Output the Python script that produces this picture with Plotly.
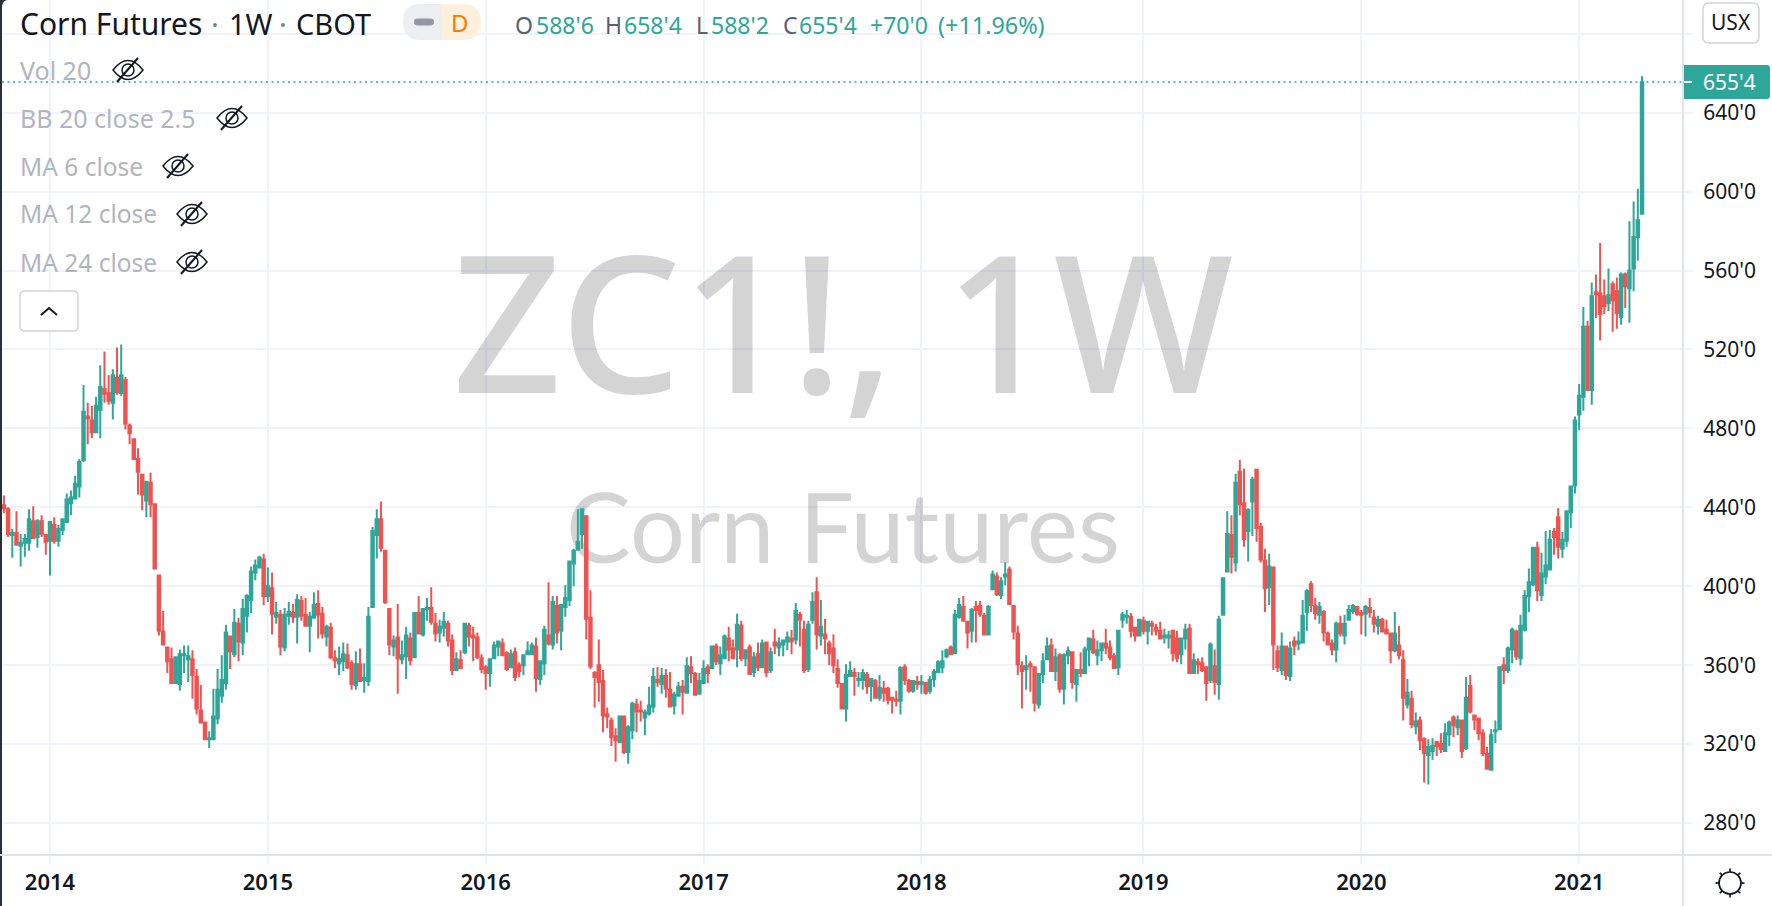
"""Corn Futures weekly candles, TradingView look."""
import math
import pandas as pd
import plotly.graph_objects as go

opens = [
    441, 439, 426, 427, 420.5, 422, 422, 433, 425, 433,
    426, 423, 431, 423, 428.5, 432.5, 442, 444.5, 450.5, 464,
    486, 484, 478, 489.5, 500, 498, 493, 505.5, 498, 504.5,
    481.5, 474.5, 464.5, 456.5, 443.5, 452.5, 441.5, 405.5, 377, 369,
    363, 351, 350.5, 365, 363, 363, 354, 337, 331, 322.5,
    322.5, 333, 344.5, 351, 374.5, 365.5, 381, 371.5, 385, 393,
    407, 409.5, 413.5, 395, 399, 384.5, 385.5, 369, 385, 386.5,
    384.5, 392.5, 385.5, 380, 384, 391, 386, 374.5, 379, 363.5,
    361, 362, 365, 361, 350, 360.5, 352.5, 352, 389.5, 426,
    434, 418, 388.5, 369.5, 374, 363, 364.5, 373.5, 364, 386.5,
    375.5, 388.5, 389, 381, 376.5, 379, 381, 372.5, 357.5, 362.5,
    366.5, 380, 375, 374, 363.5, 359, 356, 363.5, 369.5, 371,
    366, 359, 366.5, 360, 360, 365.5, 365.5, 369.5, 353, 361,
    375, 370.5, 390, 377.5, 389.5, 393, 411.5, 418.5, 426.5, 435.5,
    384, 356, 360, 352, 335, 332, 324, 321, 334, 316,
    327, 340, 337, 333.5, 335.5, 339, 352.5, 350.5, 354.5, 347.5,
    339.5, 344.5, 349, 346, 359, 355.5, 345.5, 351, 359, 358.5,
    369.5, 361, 363.5, 373.5, 368.5, 368, 380, 363.5, 369, 356.5,
    365.5, 359, 371.5, 357.5, 371.5, 369, 370.5, 372, 373.5, 373,
    385.5, 378, 358, 383, 397, 375, 375.5, 371, 368.5, 358,
    350.5, 338, 354.5, 356, 352.5, 352.5, 355, 349.5, 352, 343.5,
    348, 348, 343.5, 342.5, 342, 359, 352, 347, 351.5, 350.5,
    351, 347, 353, 356.5, 359, 364.5, 369, 366, 384.5, 389.5,
    382, 377.5, 389.5, 390, 385, 375.5, 398.5, 405, 395.5, 405,
    408.5, 390, 376, 359.5, 358, 360.5, 359, 340, 355.5, 363,
    370, 357, 365, 348, 365, 366.5, 350.5, 357.5, 356, 368,
    373, 365, 367.5, 371, 369, 364.5, 359, 383, 384.5, 384.5,
    379, 375, 382.5, 377.5, 381, 379, 377.5, 374, 374, 377.5,
    373.5, 365.5, 373.5, 378.5, 356, 361.5, 361, 359, 352.5, 359.5,
    350.5, 385.5, 407.5, 426, 412, 458, 442, 428, 443, 459,
    430, 413, 399.5, 409.5, 367, 357.5, 369.5, 354.5, 372, 371,
    371.5, 387, 401, 390, 385.5, 387, 376, 371, 368, 381,
    375, 383, 387.5, 389.5, 386.5, 386, 389, 384, 380, 383,
    378, 376, 367.5, 370, 362.5, 340, 343, 329, 332, 322.5,
    314.5, 316.5, 321, 320, 316.5, 325, 333.5, 328.5, 332, 318,
    349.5, 334.5, 333, 325.5, 315, 307, 326.5, 327.5, 360, 357.5,
    368, 377, 363.5, 378, 395, 401, 419.5, 395.5, 405, 408.5,
    427.5, 435, 419, 423, 437.5, 451, 487, 496, 531.5, 499.5,
    549, 548.5, 547, 543.5, 553, 549.5, 536.5, 558, 551, 561,
    577, 588.75,
]
closes = [
    439.5, 426.5, 427, 421, 422, 424, 434, 424.5, 433, 426.5,
    422.5, 432.5, 423, 429, 434, 444, 445, 452, 463, 488.5,
    485, 478, 491.5, 501, 497.5, 494, 507, 498.5, 507, 482.5,
    477.5, 464.5, 458, 446.5, 453, 441.5, 409, 377.5, 370.5, 362,
    351, 364, 365.5, 365.5, 364.5, 355, 338, 331, 322.5, 323,
    334, 347.5, 352.5, 376.5, 367, 381.5, 372, 388.5, 395, 407.5,
    410.5, 414.5, 395, 400, 386, 386.5, 369.5, 385.5, 387, 384.5,
    393, 385, 380, 384.5, 390.5, 385.5, 376, 379.5, 364, 362.5,
    363, 365.5, 359, 350.5, 360.5, 352, 353.5, 384.5, 428, 434,
    419.5, 392, 370.5, 372.5, 363.5, 365, 375, 362.5, 386.5, 376,
    388.5, 389, 382, 376, 379.5, 382, 372.5, 357.5, 363, 358.5,
    381, 374.5, 374, 364, 358, 356, 363, 370, 372, 365,
    358, 365.5, 354, 357, 365, 367, 370, 353.5, 362, 378,
    371, 392, 376.5, 390.5, 394, 412.5, 418, 422.5, 439, 383.5,
    359.5, 354, 351.5, 334.5, 334, 323.5, 322, 334, 316, 328.5,
    340.5, 336.5, 336.5, 336, 339.5, 354, 351.5, 354.5, 348, 339,
    345, 349, 346.5, 359.5, 356, 345, 352, 358, 356, 369.5,
    362, 365, 374.5, 368, 363.5, 380.5, 363.5, 367.5, 355.5, 364,
    359, 371, 356.5, 366.5, 370, 371, 372.5, 374, 372, 387.5,
    383, 357.5, 380.5, 392, 375.5, 379.5, 373.5, 366, 360, 351,
    338, 355, 357, 354.5, 353, 356, 349.5, 353, 343.5, 348.5,
    346, 342.5, 342.5, 342, 358.5, 352.5, 347, 352, 350.5, 351.5,
    346, 352.5, 356.5, 361.5, 362, 367.5, 365.5, 385.5, 390.5, 382.5,
    376.5, 388, 388, 386, 375.5, 389.5, 406, 396, 402.5, 406,
    391, 377, 360.5, 357, 359.5, 359.5, 341, 355.5, 362, 369.5,
    357, 364, 348, 365, 367, 351.5, 357.5, 356, 368, 373.5,
    366.5, 367.5, 371, 369, 364, 358.5, 377.5, 385.5, 385, 377.5,
    375, 383, 377.5, 382, 380, 377.5, 373.5, 375, 375, 366,
    363.5, 373.5, 378, 356, 362.5, 360.5, 357.5, 351, 370.5, 351.5,
    383, 404, 426.5, 415, 452.5, 441.5, 424, 438.5, 454, 429.5,
    413.5, 399, 410, 370.5, 359, 369.5, 355, 368.5, 370, 372,
    385, 397.5, 390.5, 386.5, 389.5, 376.5, 370.5, 368, 381, 376,
    381, 388, 390, 386, 385.5, 389.5, 387, 381, 383, 377,
    376, 367.5, 376, 365, 343.5, 346, 330, 331.5, 322, 315.5,
    318.5, 319, 319, 317.5, 325.5, 331, 329.5, 332, 316.5, 343.5,
    336.5, 332.5, 325.5, 315.5, 307.5, 324.5, 327, 359, 357.5, 368.5,
    378, 364.5, 380, 395, 402, 419.5, 398, 406.5, 410.5, 423.5,
    425, 420, 423.5, 438, 450.5, 484, 496.5, 531.5, 499.5, 547,
    548, 538, 542, 547.5, 545, 538.5, 558, 552, 560, 577,
    585.5, 655.5,
]
highs = [
    446, 440, 429, 438, 426.5, 426.5, 439, 440.5, 434, 436,
    426.5, 433, 435, 431, 434, 447, 448.5, 456, 464.5, 502,
    493, 491.5, 496, 512, 519, 507, 510, 521, 522.5, 506,
    482.5, 475, 470, 457, 453.5, 457.5, 441.5, 406, 387.5, 369,
    369, 364, 368, 370, 370, 367.5, 358, 350, 331.5, 326.5,
    348, 358, 365, 380.5, 375, 388.5, 384, 393.5, 396, 410,
    413.5, 415.5, 416.5, 409.5, 407, 392, 388, 389, 392, 391,
    396, 395, 394, 387, 397, 398, 389.5, 380.5, 381.5, 367.5,
    369.5, 371.5, 371, 362.5, 367, 368.5, 361, 389.5, 430, 439,
    443, 418, 389, 375, 391, 372.5, 379.5, 376.5, 387, 395,
    389, 394, 399.5, 386.5, 383, 387, 382.5, 375.5, 366.5, 367.5,
    381.5, 381.5, 379.5, 376.5, 365.5, 360, 363, 372, 372.5, 373.5,
    367, 368, 369, 361.5, 365, 372, 371.5, 374, 362.5, 380,
    402, 395, 395, 391, 400.5, 413, 419, 439, 439, 435.5,
    398, 357, 373, 357.5, 338.5, 333.5, 328, 334.5, 334.5, 329.5,
    341.5, 343, 342, 337.5, 349, 358.5, 359, 358.5, 358, 356.5,
    346.5, 351.5, 352.5, 364, 364.5, 356.5, 356, 362.5, 360.5, 370,
    371, 369.5, 375.5, 379.5, 373, 386, 382.5, 367.5, 370.5, 366.5,
    371.5, 373, 372, 369, 378.5, 374, 372.5, 377, 378, 391.5,
    387, 382.5, 382.5, 397, 404.5, 393, 383.5, 372.5, 375.5, 363,
    350.5, 360.5, 362, 358.5, 356.5, 358, 356.5, 353.5, 353, 355,
    352, 349, 344, 347, 359.5, 360.5, 353, 352.5, 354.5, 355,
    351.5, 354.5, 358, 362.5, 367.5, 368.5, 370, 388, 394, 395,
    382, 389, 392.5, 392.5, 386.5, 390.5, 408, 407, 404.5, 412,
    410, 390, 380, 362, 365, 362, 359, 356, 366, 374,
    373.5, 368.5, 366, 366, 369.5, 366.5, 358, 366.5, 369.5, 374,
    378, 372.5, 371, 378.5, 372.5, 366, 377.5, 387, 388, 386.5,
    379, 383.5, 384.5, 382.5, 382.5, 381, 382, 378.5, 377.5, 378,
    377.5, 373.5, 381, 381, 366, 363.5, 364, 359, 371.5, 368,
    385, 404.5, 438, 436, 457, 464, 459.5, 439.5, 455.5, 459.5,
    432, 419, 416.5, 410, 370, 376.5, 370, 372, 374.5, 377,
    393, 398.5, 402.5, 394, 392, 388, 377, 373, 382, 385,
    385.5, 390.5, 391, 389.5, 388, 390.5, 394, 388, 385, 384,
    383, 376, 387, 380, 367.5, 353, 347, 336, 334, 323.5,
    322.5, 323, 321, 325.5, 330.5, 332, 334.5, 334.5, 332, 354,
    355, 334.5, 333.5, 327.5, 318.5, 327.5, 332, 359.5, 364, 369.5,
    379, 378, 385.5, 398, 409, 420, 422.5, 417, 428, 428.5,
    429.5, 439.5, 427.5, 438.5, 451, 486, 502.5, 541.5, 534.5, 554,
    558, 574, 555.5, 561, 554.5, 556.5, 559, 559, 585, 595,
    601.5, 658.5,
]
lows = [
    437, 425, 414.5, 420.5, 410, 415, 418, 424, 419.5, 425,
    416, 405.5, 421.5, 420, 426, 432, 436, 444, 445, 463,
    472, 475, 478, 475, 493, 492, 484.5, 497, 496.5, 479.5,
    472, 464, 446.5, 438.5, 435, 435, 408.5, 375, 370, 356,
    350.5, 350.5, 347, 356, 351.5, 343, 335, 331, 322, 318,
    322.5, 330, 341, 347.5, 358, 364, 362, 365, 376.5, 386.5,
    403, 409, 390.5, 392, 375.5, 381, 365, 367, 380.5, 381.5,
    371, 382.5, 379.5, 366.5, 384, 373.5, 373.5, 369.5, 363, 358.5,
    355, 357, 358, 347.5, 347.5, 352, 346, 349.5, 389.5, 414,
    417.5, 391, 365, 364.5, 345.5, 360.5, 353, 360, 363.5, 375.5,
    374.5, 382.5, 380.5, 372, 371.5, 374.5, 369.5, 355, 357, 358,
    365.5, 369.5, 362, 363, 356, 347.5, 349, 363.5, 364.5, 364.5,
    357, 358.5, 352, 354, 355, 365, 365, 346.5, 350, 355,
    370, 368, 371, 367.5, 384.5, 390, 400, 418.5, 419, 373,
    358, 338.5, 341.5, 326, 328, 319, 311, 320.5, 315, 310,
    322.5, 326, 331.5, 324.5, 334.5, 336, 349, 345.5, 343.5, 338.5,
    335, 344, 335, 346, 351, 344.5, 345.5, 351, 351, 358,
    360, 355, 363, 362, 363, 359, 362, 359.5, 355, 354,
    357, 358.5, 354, 356, 365.5, 364.5, 364.5, 367.5, 365.5, 370.5,
    369.5, 356, 356.5, 381, 368, 370, 365.5, 360, 356, 348.5,
    337.5, 331.5, 354.5, 344.5, 349, 347.5, 345.5, 341.5, 343.5, 342,
    341.5, 340, 335.5, 339, 335, 350, 346, 346, 347.5, 345.5,
    345, 345.5, 349, 356.5, 356, 363.5, 365, 366, 383.5, 382,
    368.5, 371.5, 371.5, 384.5, 375.5, 375.5, 398.5, 395, 393.5, 400.5,
    390.5, 373, 355, 338, 347.5, 346.5, 336.5, 338, 351, 363,
    356.5, 352, 346, 340, 360.5, 348, 341.5, 354, 356, 359.5,
    365.5, 360, 362, 365.5, 362.5, 358, 355, 379, 381, 374,
    372, 375, 375.5, 370.5, 375, 375, 373.5, 371, 368.5, 362,
    361.5, 360.5, 368, 355.5, 356, 355.5, 356.5, 342, 351, 345,
    342.5, 385.5, 407, 406.5, 407.5, 436, 420, 412.5, 425.5, 422.5,
    412, 387, 390.5, 357.5, 356.5, 355, 352.5, 352, 365, 367.5,
    371, 377.5, 387, 383, 381, 372, 370, 365, 361.5, 374.5,
    370.5, 383, 386, 385, 375.5, 374.5, 384, 376.5, 375.5, 376.5,
    375.5, 361, 366.5, 363, 332, 338, 328, 325, 317, 300.5,
    299.5, 312, 314, 315.5, 316, 319, 323.5, 324.5, 313, 317,
    335.5, 327, 322, 314, 307, 307, 320.5, 327, 350.5, 356,
    361, 362.5, 360, 377, 387, 400, 392.5, 392.5, 401, 408.5,
    416, 414, 414.5, 420, 429.5, 447, 479, 489, 499, 492,
    536, 524.5, 538, 539.5, 529, 530.5, 532.5, 541, 533.5, 549.5,
    565, 588.25,
]
price_ticks = [280, 320, 360, 400, 440, 480, 520, 560, 600, 640, 680]
price_labels = ["280'0", "320'0", "360'0", "400'0", "440'0", "480'0", "520'0", "560'0", "600'0", "640'0", ""]
year_ticks = ["2014-01-06", "2015-01-05", "2016-01-04", "2017-01-02", "2018-01-01", "2019-01-07", "2020-01-06", "2021-01-04"]
year_labels = ["2014", "2015", "2016", "2017", "2018", "2019", "2020", "2021"]
legend_rows = ["Vol 20", "BB 20 close 2.5", "MA 6 close", "MA 12 close", "MA 24 close"]

dates = pd.date_range(end="2021-04-19", periods=len(opens), freq="7D")

W, H = 1772, 906
L, R, B = 2, 1683, 855
UP, DOWN = "#2ea69a", "#ef5350"
GRID = "#f0f3fa"
AXIS = "#e0e3eb"
DARK = "#131722"
FONT = "Noto Sans"


# pixel helpers, the chart chrome is laid out in screen pixels
def px(x):
    return (x - L) / (R - L)


def py(y):
    return (B - y) / B


def date_at(x):
    return pd.Timestamp("2014-01-06") + pd.Timedelta(days=(x - 50) / 0.5985)


def price_at(y):
    return 280 + (823 - y) / 1.973


def path(d, **kw):
    """d is a list of (command, x, y, x, y...) in screen pixels."""
    out = []
    for seg in d:
        nums = seg[1:]
        pts = [f"{px(nums[i]):.5f},{py(nums[i + 1]):.5f}" for i in range(0, len(nums), 2)]
        out.append(seg[0] + " ".join(pts))
    return dict(type="path", xref="paper", yref="paper", path=" ".join(out), layer="above", **kw)


def circle(cx, cy, r, **kw):
    k = 0.5523 * r
    return path([
        ("M", cx - r, cy),
        ("C", cx - r, cy - k, cx - k, cy - r, cx, cy - r),
        ("C", cx + k, cy - r, cx + r, cy - k, cx + r, cy),
        ("C", cx + r, cy + k, cx + k, cy + r, cx, cy + r),
        ("C", cx - k, cy + r, cx - r, cy + k, cx - r, cy),
        ("Z",),
    ], **kw)


def rounded(x0, y0, x1, y1, r, **kw):
    return path([
        ("M", x0 + r, y0), ("L", x1 - r, y0), ("Q", x1, y0, x1, y0 + r),
        ("L", x1, y1 - r), ("Q", x1, y1, x1 - r, y1), ("L", x0 + r, y1),
        ("Q", x0, y1, x0, y1 - r), ("L", x0, y0 + r), ("Q", x0, y0, x0 + r, y0), ("Z",),
    ], **kw)


def label(x, y, text, size, color, anchor="left", weight=None, family=FONT):
    return dict(xref="paper", yref="paper", x=px(x), y=py(y), text=text, showarrow=False,
                xanchor=anchor, yanchor="middle", borderpad=0,
                font=dict(family=family, size=size, color=color, weight=weight))


def eye(cx, cy):
    line = dict(color=DARK, width=1.5)
    return [
        path([("M", cx - 15, cy), ("Q", cx, cy - 19, cx + 15, cy), ("Q", cx, cy + 19, cx - 15, cy), ("Z",)], line=line),
        circle(cx, cy, 6, line=line),
        path([("M", cx + 10, cy - 12), ("L", cx - 11, cy + 12)], line=dict(color=DARK, width=2)),
    ]


fig = go.Figure()

# watermark goes on the base axes so the candles (overlay axes) sit on top of it
fig.add_trace(go.Scatter(
    x=[date_at(843), date_at(843)],
    y=[price_at(345), price_at(539)],
    text=["ZC1!, 1W", "Corn Futures"],
    mode="text",
    textposition="middle center",
    textfont=dict(family=["Noto Sans", "Lato"], size=[191, 97], weight=[500, 400], color="rgba(0,0,0,0.17)"),
    hoverinfo="skip",
    showlegend=False,
))

fig.add_trace(go.Candlestick(
    x=dates,
    open=opens,
    high=highs,
    low=lows,
    close=closes,
    xaxis="x2",
    yaxis="y2",
    whiskerwidth=0,
    increasing=dict(line=dict(color=UP, width=2), fillcolor=UP),
    decreasing=dict(line=dict(color=DOWN, width=2), fillcolor=DOWN),
    showlegend=False,
))

x_range = [date_at(L), date_at(R)]
y_range = [price_at(B), price_at(0)]

shapes = [
    # last price line and label
    dict(type="line", xref="paper", yref="paper", x0=px(L), x1=px(R), y0=py(82), y1=py(82),
         line=dict(color=UP, width=1.5, dash="2px,3.5px"), layer="above"),
    rounded(1682, 65, 1770, 99, 3, fillcolor=UP, line=dict(width=0)),
    path([("M", 1683, 82), ("L", 1692, 82)], line=dict(color="#ffffff", width=2)),
    # USX button
    rounded(1703, 3, 1759, 43, 6, fillcolor="#ffffff", line=dict(color="#d1d4dc", width=1.5)),
    # interval pill
    path([("M", 442, 4), ("L", 421, 4), ("Q", 403, 4, 403, 22), ("Q", 403, 40, 421, 40), ("L", 442, 40), ("Z",)],
         fillcolor="#eeeff2", line=dict(width=0)),
    path([("M", 442, 4), ("L", 463, 4), ("Q", 481, 4, 481, 22), ("Q", 481, 40, 463, 40), ("L", 442, 40), ("Z",)],
         fillcolor="#fff0de", line=dict(width=0)),
    rounded(414, 18.5, 434, 25.5, 3.5, fillcolor="#9598a1", line=dict(width=0)),
    # collapse button
    rounded(20, 291, 78, 331, 5, fillcolor="#ffffff", line=dict(color="#d1d4dc", width=1.5)),
    path([("M", 41, 315), ("L", 49, 308), ("L", 57, 315)], line=dict(color=DARK, width=2)),
    # dark edge on the left
    path([("M", 0, 0), ("L", 8, 0), ("Q", 2, 0, 2, 8), ("L", 2, H), ("L", 0, H), ("Z",)],
         fillcolor="#2a2e39", line=dict(width=0)),
    # axis border lines
    path([("M", R, 0), ("L", R, H)], line=dict(color=AXIS, width=2)),
    path([("M", 0, B), ("L", W, B)], line=dict(color=AXIS, width=2)),
    # theme icon
    circle(1730, 883, 11, line=dict(color=DARK, width=1.7)),
]
for cx, cy in [(128, 70), (232, 118), (178, 166), (192, 214), (192, 262)]:
    shapes += eye(cx, cy)
for i in range(8):
    a = i * math.pi / 4
    shapes.append(path([("M", 1730 + 11 * math.cos(a), 883 + 11 * math.sin(a)),
                        ("L", 1730 + 14.5 * math.cos(a), 883 + 14.5 * math.sin(a))],
                       line=dict(color=DARK, width=1.7)))

annotations = [
    label(19, 23, "Corn Futures", 30, DARK),
    label(215, 23, "·", 29, "#787b86", "center"),
    label(228, 23, "1W", 29, DARK),
    label(283, 23, "·", 29, "#787b86", "center"),
    label(295, 23, "CBOT", 29, DARK),
    label(460, 22, "D", 24, "#f57c00", "center"),
    label(514, 25, "O", 23, "#5d606b"),
    label(535, 25, "588'6", 23, UP),
    label(604, 25, "H", 23, "#5d606b"),
    label(623, 25, "658'4", 23, UP),
    label(695, 25, "L", 23, "#5d606b"),
    label(710, 25, "588'2", 23, UP),
    label(782, 25, "C", 23, "#5d606b"),
    label(798, 25, "655'4", 23, UP),
    label(869, 25, "+70'0", 23, UP),
    label(937, 25, "(+11.96%)", 23.4, UP),
    label(1731, 22, "USX", 21, DARK, "center"),
    label(1702, 82, "655'4", 21, "#ffffff"),
]
for row, y, size in zip(legend_rows, [70, 118, 166, 214, 262], [25, 25, 24.5, 24.5, 24.5]):
    annotations.append(label(19, y, row, size, "#b2b5be"))

fig.update_layout(
    width=W,
    height=H,
    autosize=False,
    margin=dict(l=L, r=W - R, t=0, b=H - B),
    plot_bgcolor="#ffffff",
    paper_bgcolor="#ffffff",
    font=dict(family=FONT, color=DARK),
    showlegend=False,
    boxgap=0.15,
    xaxis=dict(
        type="date", range=x_range, tickmode="array", tickvals=year_ticks, ticktext=year_labels,
        showgrid=True, gridcolor=GRID, gridwidth=2, zeroline=False, showline=False,
        ticks="outside", ticklen=8, tickwidth=2, tickcolor=GRID,
        tickfont=dict(family=FONT, size=22, color=DARK, weight=600),
        rangeslider=dict(visible=False),
    ),
    yaxis=dict(
        side="right", range=y_range, tickmode="array", tickvals=price_ticks, ticktext=price_labels,
        showgrid=True, gridcolor=GRID, gridwidth=2, zeroline=False, showline=False,
        ticks="outside", ticklen=9, tickwidth=2, tickcolor=GRID, ticklabelstandoff=6,
        tickfont=dict(family=FONT, size=21, color=DARK),
    ),
    xaxis2=dict(type="date", overlaying="x", range=x_range, visible=False, rangeslider=dict(visible=False)),
    yaxis2=dict(overlaying="y", range=y_range, visible=False, side="right"),
    shapes=shapes,
    annotations=annotations,
)

fig.write_html("out.html", config={"displayModeBar": False},
               post_script="document.body.style.margin='0';document.body.style.overflow='hidden';")
